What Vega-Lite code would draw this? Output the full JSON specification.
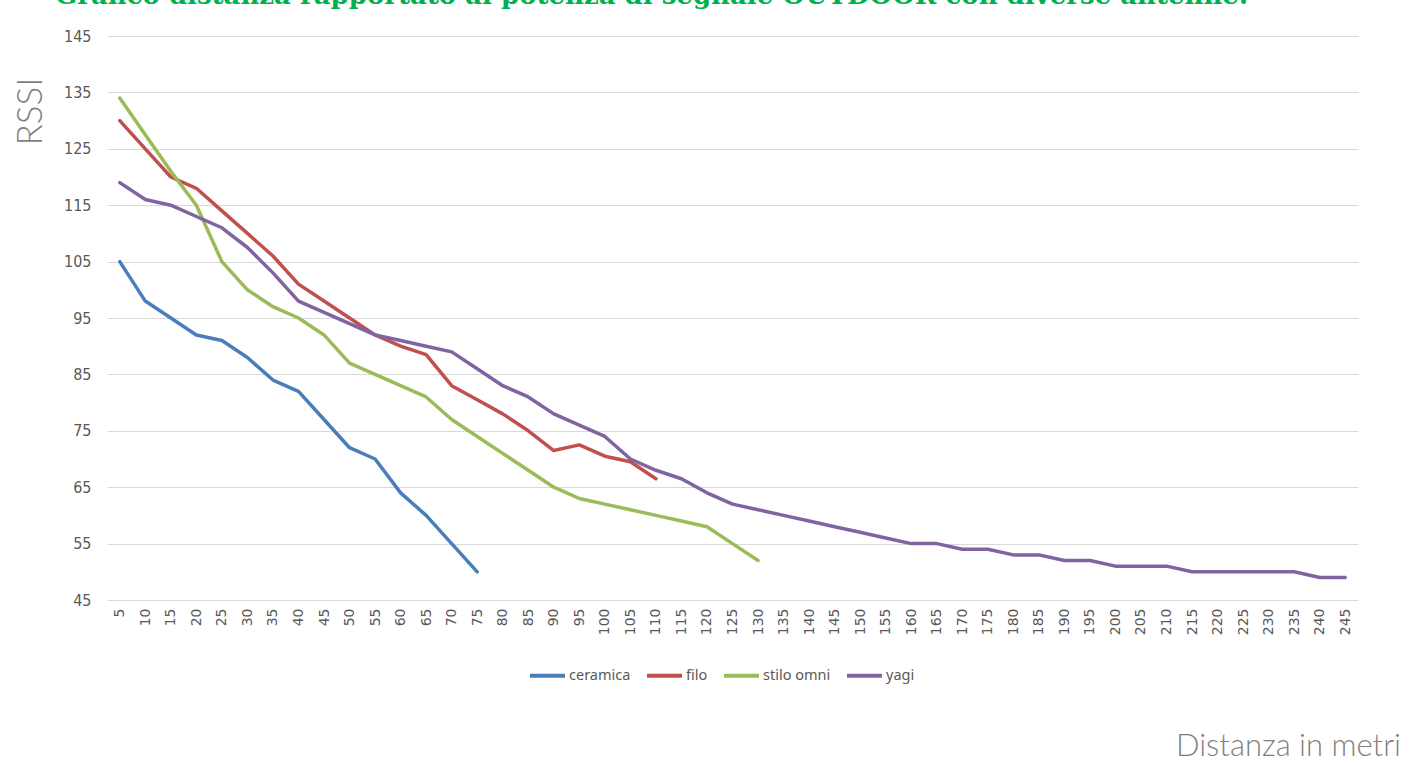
{
  "$schema": "https://vega.github.io/schema/vega-lite/v6.json",
  "width": 1251,
  "height": 564,
  "autosize": {"type": "none"},
  "padding": {"left": 107, "top": 36, "right": 68, "bottom": 163},
  "background": "white",
  "title": {
    "text": "Grafico distanza rapportato al potenza di segnale OUTDOOR con diverse antenne.",
    "anchor": "start",
    "frame": "group",
    "dx": -52,
    "offset": 0,
    "dy": 2,
    "baseline": "alphabetic",
    "color": "#00b050",
    "font": "DejaVu Serif",
    "fontWeight": "bold",
    "fontSize": 26
  },
  "data": {
    "values": [
      {"d": 5, "s": "ceramica", "v": 105}, {"d": 10, "s": "ceramica", "v": 98}, {"d": 15, "s": "ceramica", "v": 95},
      {"d": 20, "s": "ceramica", "v": 92}, {"d": 25, "s": "ceramica", "v": 91}, {"d": 30, "s": "ceramica", "v": 88},
      {"d": 35, "s": "ceramica", "v": 84}, {"d": 40, "s": "ceramica", "v": 82}, {"d": 45, "s": "ceramica", "v": 77},
      {"d": 50, "s": "ceramica", "v": 72}, {"d": 55, "s": "ceramica", "v": 70}, {"d": 60, "s": "ceramica", "v": 64},
      {"d": 65, "s": "ceramica", "v": 60}, {"d": 70, "s": "ceramica", "v": 55}, {"d": 75, "s": "ceramica", "v": 50},
      {"d": 5, "s": "filo", "v": 130}, {"d": 10, "s": "filo", "v": 125}, {"d": 15, "s": "filo", "v": 120},
      {"d": 20, "s": "filo", "v": 118}, {"d": 25, "s": "filo", "v": 114}, {"d": 30, "s": "filo", "v": 110},
      {"d": 35, "s": "filo", "v": 106}, {"d": 40, "s": "filo", "v": 101}, {"d": 45, "s": "filo", "v": 98},
      {"d": 50, "s": "filo", "v": 95}, {"d": 55, "s": "filo", "v": 92}, {"d": 60, "s": "filo", "v": 90},
      {"d": 65, "s": "filo", "v": 88.5}, {"d": 70, "s": "filo", "v": 83}, {"d": 75, "s": "filo", "v": 80.5},
      {"d": 80, "s": "filo", "v": 78}, {"d": 85, "s": "filo", "v": 75}, {"d": 90, "s": "filo", "v": 71.5},
      {"d": 95, "s": "filo", "v": 72.5}, {"d": 100, "s": "filo", "v": 70.5}, {"d": 105, "s": "filo", "v": 69.5},
      {"d": 110, "s": "filo", "v": 66.5},
      {"d": 5, "s": "stilo omni", "v": 134}, {"d": 10, "s": "stilo omni", "v": 127.5}, {"d": 15, "s": "stilo omni", "v": 121},
      {"d": 20, "s": "stilo omni", "v": 115}, {"d": 25, "s": "stilo omni", "v": 105}, {"d": 30, "s": "stilo omni", "v": 100},
      {"d": 35, "s": "stilo omni", "v": 97}, {"d": 40, "s": "stilo omni", "v": 95}, {"d": 45, "s": "stilo omni", "v": 92},
      {"d": 50, "s": "stilo omni", "v": 87}, {"d": 55, "s": "stilo omni", "v": 85}, {"d": 60, "s": "stilo omni", "v": 83},
      {"d": 65, "s": "stilo omni", "v": 81}, {"d": 70, "s": "stilo omni", "v": 77}, {"d": 75, "s": "stilo omni", "v": 74},
      {"d": 80, "s": "stilo omni", "v": 71}, {"d": 85, "s": "stilo omni", "v": 68}, {"d": 90, "s": "stilo omni", "v": 65},
      {"d": 95, "s": "stilo omni", "v": 63}, {"d": 100, "s": "stilo omni", "v": 62}, {"d": 105, "s": "stilo omni", "v": 61},
      {"d": 110, "s": "stilo omni", "v": 60}, {"d": 115, "s": "stilo omni", "v": 59}, {"d": 120, "s": "stilo omni", "v": 58},
      {"d": 125, "s": "stilo omni", "v": 55}, {"d": 130, "s": "stilo omni", "v": 52},
      {"d": 5, "s": "yagi", "v": 119}, {"d": 10, "s": "yagi", "v": 116}, {"d": 15, "s": "yagi", "v": 115},
      {"d": 20, "s": "yagi", "v": 113}, {"d": 25, "s": "yagi", "v": 111}, {"d": 30, "s": "yagi", "v": 107.5},
      {"d": 35, "s": "yagi", "v": 103}, {"d": 40, "s": "yagi", "v": 98}, {"d": 45, "s": "yagi", "v": 96},
      {"d": 50, "s": "yagi", "v": 94}, {"d": 55, "s": "yagi", "v": 92}, {"d": 60, "s": "yagi", "v": 91},
      {"d": 65, "s": "yagi", "v": 90}, {"d": 70, "s": "yagi", "v": 89}, {"d": 75, "s": "yagi", "v": 86},
      {"d": 80, "s": "yagi", "v": 83}, {"d": 85, "s": "yagi", "v": 81}, {"d": 90, "s": "yagi", "v": 78},
      {"d": 95, "s": "yagi", "v": 76}, {"d": 100, "s": "yagi", "v": 74}, {"d": 105, "s": "yagi", "v": 70},
      {"d": 110, "s": "yagi", "v": 68}, {"d": 115, "s": "yagi", "v": 66.5}, {"d": 120, "s": "yagi", "v": 64},
      {"d": 125, "s": "yagi", "v": 62}, {"d": 130, "s": "yagi", "v": 61}, {"d": 135, "s": "yagi", "v": 60},
      {"d": 140, "s": "yagi", "v": 59}, {"d": 145, "s": "yagi", "v": 58}, {"d": 150, "s": "yagi", "v": 57},
      {"d": 155, "s": "yagi", "v": 56}, {"d": 160, "s": "yagi", "v": 55}, {"d": 165, "s": "yagi", "v": 55},
      {"d": 170, "s": "yagi", "v": 54}, {"d": 175, "s": "yagi", "v": 54}, {"d": 180, "s": "yagi", "v": 53},
      {"d": 185, "s": "yagi", "v": 53}, {"d": 190, "s": "yagi", "v": 52}, {"d": 195, "s": "yagi", "v": 52},
      {"d": 200, "s": "yagi", "v": 51}, {"d": 205, "s": "yagi", "v": 51}, {"d": 210, "s": "yagi", "v": 51},
      {"d": 215, "s": "yagi", "v": 50}, {"d": 220, "s": "yagi", "v": 50}, {"d": 225, "s": "yagi", "v": 50},
      {"d": 230, "s": "yagi", "v": 50}, {"d": 235, "s": "yagi", "v": 50}, {"d": 240, "s": "yagi", "v": 49},
      {"d": 245, "s": "yagi", "v": 49}
    ]
  },
  "mark": {"type": "line", "strokeWidth": 3.5, "strokeCap": "round", "strokeJoin": "round"},
  "encoding": {
    "x": {
      "field": "d",
      "type": "ordinal",
      "scale": {"type": "point", "padding": 0.5},
      "axis": {
        "title": "Distanza in metri",
        "titleX": 1181,
        "titleY": 146,
        "titleAlign": "center",
        "titleBaseline": "middle",
        "titleFont": "Lato",
        "titleFontWeight": 300,
        "titleFontSize": 31,
        "titleColor": "#7f7f7f",
        "labelAngle": -90,
        "labelFont": "DejaVu Sans",
        "labelFontSize": 14,
        "labelColor": "#595959",
        "labelPadding": 8,
        "ticks": false,
        "tickSize": 0,
        "domain": false,
        "grid": false
      }
    },
    "y": {
      "field": "v",
      "type": "quantitative",
      "scale": {"domain": [45, 145], "nice": false, "zero": false},
      "axis": {
        "title": "RSSI",
        "titleX": -77,
        "titleY": 75,
        "titleAngle": 270,
        "titleAlign": "center",
        "titleBaseline": "middle",
        "titleFont": "Lato",
        "titleFontWeight": 300,
        "titleFontSize": 35,
        "titleColor": "#7f7f7f",
        "values": [45, 55, 65, 75, 85, 95, 105, 115, 125, 135, 145],
        "labelFont": "Liberation Sans Narrow, DejaVu Sans Condensed, Noto Sans",
        "labelFontSize": 16,
        "labelColor": "#595959",
        "labelPadding": 16,
        "ticks": false,
        "tickSize": 0,
        "domain": false,
        "grid": true,
        "gridColor": "#d9d9d9",
        "gridWidth": 1.2
      }
    },
    "color": {
      "field": "s",
      "type": "nominal",
      "scale": {
        "domain": ["ceramica", "filo", "stilo omni", "yagi"],
        "range": ["#4a7ebb", "#c0504d", "#9bbb59", "#8064a2"]
      },
      "legend": {
        "title": null,
        "orient": "none",
        "direction": "horizontal",
        "legendX": 421,
        "legendY": 620,
        "symbolType": "stroke",
        "symbolSize": 1225,
        "symbolStrokeWidth": 4,
        "labelFont": "Noto Sans",
        "labelFontSize": 14.5,
        "labelColor": "#595959",
        "labelOffset": 2,
        "columnPadding": 8,
        "padding": 0
      }
    }
  },
  "config": {"view": {"stroke": null}}
}
